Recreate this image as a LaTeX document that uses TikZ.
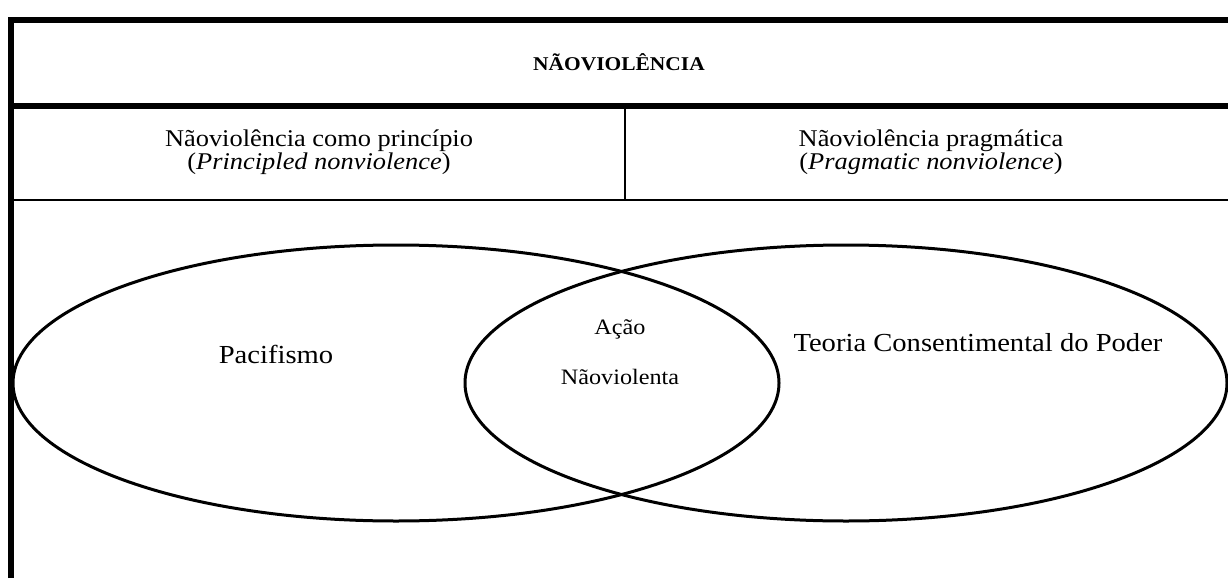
\documentclass[tikz,border=0pt]{standalone}
\usepackage{fontspec}
\setmainfont{Liberation Serif}
\usetikzlibrary{positioning}
\newcommand{\wide}[1]{\scalebox{1.1}[1]{#1}}

\begin{document}
\begin{tikzpicture}[x=1pt,y=-1pt]

\tikzstyle{label}=[align=center, inner sep=0pt]
\tikzstyle{head}=[label, font=\fontsize{19.5}{22}\selectfont\bfseries]
\tikzstyle{cell}=[label, font=\fontsize{24}{23}\selectfont]
\tikzstyle{setname}=[label, font=\fontsize{26}{28}\selectfont]
\tikzstyle{common}=[label, font=\fontsize{22}{24}\selectfont]
\tikzstyle{thick rule}=[line width=6pt]
\tikzstyle{thin rule}=[line width=2pt]
\tikzstyle{set}=[line width=3pt]

\useasboundingbox (0,0) rectangle (1228,578);

% table rules
\draw[thick rule] (11,578) -- (11,17);
\draw[thick rule] (8,20) -- (1228,20);
\draw[thick rule] (8,106) -- (1228,106);
\draw[thin rule] (14,200) -- (1228,200);
\draw[thin rule] (625,109) -- (625,200);

% header cells
\node[head] (title) at (619,62) {\wide{NÃOVIOLÊNCIA}};
\node[cell] (principle) at (319,152) {\wide{Nãoviolência como princípio}\\\wide{(\textit{Principled nonviolence})}};
\node[cell] (pragmatic) at (931,152) {\wide{Nãoviolência pragmática}\\\wide{(\textit{Pragmatic nonviolence})}};

% the two sets
\draw[set] (396,383) ellipse [x radius=383, y radius=138];
\draw[set] (846,383) ellipse [x radius=381, y radius=138];

\node[setname] (pacifismo) at (276,354) {\wide{Pacifismo}};
\node[common] (acao) at (620,329) {\wide{Ação}};
\node[common, below=30pt of acao.south] (naoviolenta) {\wide{Nãoviolenta}};
\node[setname] (teoria) at (978,343) {\wide{Teoria Consentimental do Poder}};
\end{tikzpicture}
\end{document}
